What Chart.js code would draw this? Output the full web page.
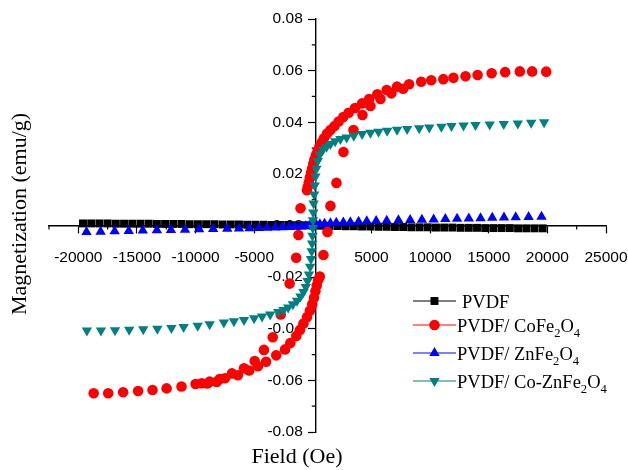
<!DOCTYPE html>
<html>
<head>
<meta charset="utf-8">
<script src="https://cdn.jsdelivr.net/npm/chart.js@4.4.1/dist/chart.umd.min.js"></script>
<style>
  html, body { margin: 0; padding: 0; background: #fff; }
  canvas { display: block; }
</style>
</head>
<body>
<canvas id="grafica" width="628" height="470"></canvas>
<script>
// Axis ticks
const xTicks = [-20000, -15000, -10000, -5000, 5000, 10000, 15000, 20000, 25000];
const yTicks = [-0.08, -0.06, -0.04, -0.02, 0, 0.02, 0.04, 0.06, 0.08];

const seriesNames = ['PVDF', 'PVDF/ CoFe_2O_4', 'PVDF/ ZnFe_2O_4', 'PVDF/ Co-ZnFe_2O_4'];

// PVDF (Oe / emu/g)
const pvdfField = [-19600, -18900, -18200, -17500, -16800, -16100, -15400, -14700, -14000, -13300,
  -12600, -11900, -11200, -10500, -9800, -9100, -8400, -7700, -7000, -6300,
  -5600, -4900, -4200, -3500, -2800, -2100, -1400, -700, 0,
  700, 1400, 2100, 2800, 3500, 4200, 4900, 5600, 6300, 7000,
  7700, 8400, 9100, 9800, 10500, 11200, 11900, 12600, 13300, 14000,
  14700, 15400, 16100, 16800, 17500, 18200, 18900, 19600];
const pvdfMag = [0.0008, 0.0008, 0.0008, 0.0008, 0.0007, 0.0007, 0.0007, 0.0007, 0.0007, 0.0006,
  0.0006, 0.0006, 0.0006, 0.0005, 0.0005, 0.0005, 0.0005, 0.0004, 0.0004, 0.0004,
  0.0003, 0.0003, 0.0003, 0.0002, 0.0002, 0.0002, 0.0001, 0.0001, 0.0000,
  -0.0001, -0.0002, -0.0002, -0.0003, -0.0003, -0.0004, -0.0004, -0.0005, -0.0005, -0.0006,
  -0.0006, -0.0007, -0.0007, -0.0007, -0.0008, -0.0008, -0.0008, -0.0009, -0.0009, -0.0009,
  -0.0010, -0.0010, -0.0010, -0.0010, -0.0011, -0.0011, -0.0011, -0.0011];

// PVDF/CoFe2O4, branch coming down from +H
const cofeDownField = [19900, 18700, 17650, 16400, 15250, 14050, 13020, 11990, 11130, 10100,
  9240, 8210, 7180, 6300, 5500, 4800, 4200, 3600, 3050, 2600,
  2200, 1850, 1500, 1200, 950, 750, 560, 400, 260, 130,
  30, -70, -160, -250, -340, -430, -500, -1050, -1230, -1420,
  -1980, -2740, -3420, -4170, -4960, -5870, -6900, -7940, -8800, -9480,
  -10000, -11200, -12470, -13670, -14900, -16180, -17450, -18690];
const cofeDownMag = [0.0596, 0.0597, 0.0597, 0.0594, 0.0590, 0.0583, 0.0578, 0.0572, 0.0567, 0.0563,
  0.0557, 0.0547, 0.0538, 0.0525, 0.0508, 0.0490, 0.0473, 0.0455, 0.0437, 0.0420,
  0.0403, 0.0385, 0.0370, 0.0355, 0.0338, 0.0322, 0.0305, 0.0288, 0.0272, 0.0255,
  0.0238, 0.0220, 0.0203, 0.0186, 0.0168, 0.0150, 0.0137, 0.0067, -0.0037, -0.0125,
  -0.0225, -0.0345, -0.0433, -0.0482, -0.0525, -0.0553, -0.0573, -0.0595, -0.0605, -0.0611,
  -0.0614, -0.0624, -0.0631, -0.0637, -0.0641, -0.0646, -0.0650, -0.0650];
// PVDF/CoFe2O4, branch going back up
const cofeUpField = [-9000, -8200, -7490, -6390, -5430, -4680, -3990, -3120, -2370, -1920,
  -1410, -1100, -800, -500, -250, -50, 100, 220, 330, 450,
  590, 904, 1246, 1502, 2014, 2611, 3464, 4232, 4915, 5768,
  6700, 7700];
const cofeUpMag = [-0.0612, -0.0606, -0.0592, -0.0580, -0.0562, -0.0545, -0.0528, -0.0503, -0.0480, -0.0455,
  -0.0428, -0.0405, -0.0380, -0.0355, -0.0330, -0.0305, -0.0280, -0.0255, -0.0232, -0.0212,
  -0.0198, -0.0114, -0.0025, 0.0076, 0.0165, 0.0285, 0.0370, 0.0428, 0.0463, 0.0490,
  0.0512, 0.0530];

// PVDF/ZnFe2O4
const znfeField = [-19300, -18100, -16900, -15700, -14500, -13300, -12100, -10900, -9700, -8500,
  -7300, -6300, -5400, -4600, -3900, -3200, -2600, -2000, -1500, -1000,
  -600, -300, 0,
  300, 600, 1000, 1500, 2000, 2600, 3200, 3900, 4600, 5400,
  6300, 7300, 8300, 9300, 10300, 11300, 12300, 13300, 14300, 15300,
  16300, 17300, 18400, 19500];
const znfeMag = [-0.0025, -0.0024, -0.0022, -0.0021, -0.0019, -0.0018, -0.0017, -0.0016, -0.0015, -0.0014,
  -0.0013, -0.0012, -0.0011, -0.0010, -0.0009, -0.0008, -0.0007, -0.0006, -0.0005, -0.0004,
  -0.0003, -0.0001, 0.0001,
  0.0003, 0.0005, 0.0007, 0.0009, 0.0011, 0.0012, 0.0013, 0.0015, 0.0016, 0.0017,
  0.0018, 0.0020, 0.0021, 0.0022, 0.0023, 0.0025, 0.0026, 0.0027, 0.0028, 0.0030,
  0.0031, 0.0032, 0.0033, 0.0034];

// PVDF/Co-ZnFe2O4
const coznField = [-19270, -18070, -16870, -15660, -14460, -13260, -12060, -11020, -9820, -8800,
  -7590, -6730, -5870, -5010, -4330, -3640, -2950, -2500, -2100, -1700,
  -1350, -1050, -800, -600, -450, -330, -230, -160, -100, -60,
  -30, 0, 20, 40, 70, 110, 160, 220, 300, 420,
  600, 850, 1170, 1500, 1900, 2350, 2880, 3490, 4200, 4910,
  5600, 6340, 7180, 8040, 9070, 9930, 10960, 11820, 12850, 13870,
  15080, 16280, 17480, 18620, 19720];
const coznMag = [-0.0407, -0.0407, -0.0406, -0.0404, -0.0402, -0.0400, -0.0397, -0.0393, -0.0388, -0.0383,
  -0.0376, -0.0371, -0.0366, -0.0359, -0.0353, -0.0345, -0.0335, -0.0327, -0.0318, -0.0305,
  -0.0292, -0.0275, -0.0258, -0.0238, -0.0215, -0.0190, -0.0160, -0.0130, -0.0100, -0.0070,
  -0.0040, -0.0010, 0.0020, 0.0050, 0.0085, 0.0120, 0.0155, 0.0190, 0.0220, 0.0250,
  0.0275, 0.0293, 0.0305, 0.0316, 0.0326, 0.0335, 0.0341, 0.0348, 0.0354, 0.0359,
  0.0363, 0.0367, 0.0371, 0.0374, 0.0377, 0.0380, 0.0383, 0.0385, 0.0387, 0.0389,
  0.0391, 0.0393, 0.0395, 0.0398, 0.0400];

const colores = ['#000000', '#ff0000', '#0000ff', '#008080'];
const simbolos = [
  { style: 'rect', radius: 5.6, rotation: 0 },
  { style: 'circle', radius: 5.3, rotation: 0 },
  { style: 'triangle', radius: 6, rotation: 0 },
  { style: 'triangle', radius: 6, rotation: 180 }
];

const yAxisAt = 250;   // the vertical axis sits a hair right of zero in the original
const serif = "'Liberation Serif', 'Times New Roman', serif";
const sans = "'Liberation Sans', Arial, sans-serif";

function puntos(campo, valores) {
  return campo.map((h, i) => ({ x: h, y: valores[i] }));
}

const xMinor = xTicks.map(v => v - 2500);
const yMinor = yTicks.slice(1).map(v => v - 0.01);

// draws "Fe_2O_4" with real subscripts
function textoSub(ctx, texto, x, y, size) {
  const partes = texto.split('_');
  let cx = x;
  partes.forEach((p, i) => {
    let cuerpo = p;
    if (i > 0) {
      const sub = p.charAt(0);
      cuerpo = p.slice(1);
      ctx.font = (size * 0.68) + 'px ' + serif;
      ctx.fillText(sub, cx, y + size * 0.28);
      cx += ctx.measureText(sub).width;
    }
    ctx.font = size + 'px ' + serif;
    ctx.fillText(cuerpo, cx, y);
    cx += ctx.measureText(cuerpo).width;
  });
}

const adornos = {
  id: 'adornos',
  beforeDatasetsDraw(chart) {
    const { ctx, scales: { x, y } } = chart;
    const ax = x.getPixelForValue(yAxisAt);
    const ay = y.getPixelForValue(0);
    ctx.save();
    ctx.strokeStyle = '#000';
    ctx.lineWidth = 1.2;
    ctx.beginPath();
    xMinor.forEach(v => {
      const px = x.getPixelForValue(v);
      ctx.moveTo(px, ay); ctx.lineTo(px, ay + 4);
    });
    yMinor.forEach(v => {
      const py = y.getPixelForValue(v);
      ctx.moveTo(ax, py); ctx.lineTo(ax - 4, py);
    });
    ctx.stroke();

    // y tick labels, left of the tick marks (a centred axis puts them on the line)
    ctx.fillStyle = '#000';
    ctx.font = '15.5px ' + sans;
    ctx.textAlign = 'right';
    ctx.textBaseline = 'middle';
    yTicks.forEach(v => ctx.fillText(v.toFixed(2), ax - 13, y.getPixelForValue(v)));

    // axis titles
    ctx.font = '22px ' + serif;
    ctx.textAlign = 'center';
    ctx.textBaseline = 'alphabetic';
    ctx.fillText('Field (Oe)', 297, 463);
    ctx.translate(26, 214);
    ctx.rotate(-Math.PI / 2);
    ctx.fillText('Magnetization (emu/g)', 0, 0);
    ctx.restore();
  },
  afterDraw(chart) {
    const ctx = chart.ctx;
    const filas = [301, 325, 353, 381];
    const textoX = [462, 457, 457, 457];
    ctx.save();
    ctx.textAlign = 'left';
    ctx.textBaseline = 'alphabetic';
    seriesNames.forEach((nombre, i) => {
      const yy = filas[i];
      ctx.strokeStyle = colores[i];
      ctx.lineWidth = 1.2;
      ctx.beginPath();
      ctx.moveTo(413, yy); ctx.lineTo(456, yy);
      ctx.stroke();
      ctx.fillStyle = colores[i];
      Chart.helpers.drawPoint(ctx, {
        pointStyle: simbolos[i].style,
        radius: simbolos[i].radius,
        rotation: simbolos[i].rotation,
        borderWidth: 0
      }, 434.5, yy);
      ctx.fillStyle = '#000';
      textoSub(ctx, nombre, textoX[i], yy + 6.5, 18.5);
    });
    ctx.restore();
  }
};

const series = [
  puntos(pvdfField, pvdfMag),
  puntos(cofeDownField, cofeDownMag).concat(puntos(cofeUpField, cofeUpMag)),
  puntos(znfeField, znfeMag),
  puntos(coznField, coznMag)
];

const datasets = series.map((datos, i) => ({
  label: seriesNames[i].replace(/_/g, ''),
  data: datos,
  showLine: false,
  order: 4 - i,
  pointStyle: simbolos[i].style,
  pointRadius: simbolos[i].radius,
  pointRotation: simbolos[i].rotation,
  pointBorderWidth: 0,
  pointBackgroundColor: colores[i],
  pointBorderColor: colores[i],
  pointHoverRadius: simbolos[i].radius
}));

// the crossing axes should not push the plot area inwards
function sinRelleno(s) {
  s.paddingLeft = 0; s.paddingRight = 0; s.paddingTop = 0; s.paddingBottom = 0;
}

new Chart(document.getElementById('grafica').getContext('2d'), {
  type: 'scatter',
  data: { datasets },
  options: {
    responsive: false,
    animation: false,
    devicePixelRatio: 1,
    layout: { padding: { left: 49, right: 22, top: 19, bottom: 38 } },
    plugins: { legend: { display: false }, tooltip: { enabled: false } },
    scales: {
      x: {
        type: 'linear',
        position: { y: 0 },
        min: -22500,
        max: 25000,
        afterBuildTicks: s => { s.ticks = xTicks.map(v => ({ value: v })); },
        afterFit: sinRelleno,
        ticks: {
          autoSkip: false, maxRotation: 0, padding: 16, color: '#000',
          font: { family: sans, size: 15.5 },
          callback: v => String(v)
        },
        grid: { drawOnChartArea: false, drawTicks: true, tickLength: 7, tickColor: '#000', tickWidth: 1.2 },
        border: { display: true, color: '#000', width: 1.4 }
      },
      y: {
        type: 'linear',
        position: { x: yAxisAt },
        min: -0.08,
        max: 0.08,
        afterBuildTicks: s => { s.ticks = yTicks.map(v => ({ value: v })); },
        afterFit: sinRelleno,
        ticks: { display: false },
        grid: { drawOnChartArea: false, drawTicks: true, tickLength: 7, tickColor: '#000', tickWidth: 1.2 },
        border: { display: true, color: '#000', width: 1.4 }
      }
    }
  },
  plugins: [adornos]
});
</script>
</body>
</html>
